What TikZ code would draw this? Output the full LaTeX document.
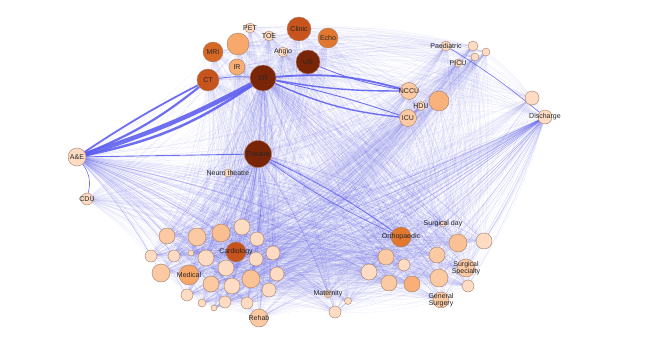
\documentclass[tikz,border=0pt]{standalone}
\usepackage{fontspec}
\setmainfont{Liberation Sans}
\pgfdeclarelayer{bg}
\pgfdeclarelayer{edges}
\pgfsetlayers{bg,edges,main}
\definecolor{eb}{RGB}{92,92,240}
\definecolor{ndline}{RGB}{165,125,105}
\definecolor{cA}{RGB}{253,220,195}
\definecolor{cB}{RGB}{251,201,162}
\definecolor{cC}{RGB}{248,168,106}
\definecolor{cD}{RGB}{226,120,48}
\definecolor{cM}{RGB}{214,104,38}
\definecolor{cE}{RGB}{198,84,28}
\definecolor{cF}{RGB}{122,36,8}
\tikzset{
 nd/.style={circle,draw=ndline,line width=0.4pt,inner sep=0pt,minimum size=#1},
 lab/.style={font=\fontsize{7}{7.5}\selectfont, text=black!85, inner sep=0pt, align=center},
 faint/.style={draw=eb, line width=0.35pt, opacity=0.085},
 midedge/.style={draw=eb, line width=0.4pt, opacity=0.26},
 heavy/.style={draw=eb, opacity=0.88, line width=#1},
}
\begin{document}
\begin{tikzpicture}[x=1pt,y=-1pt]
\useasboundingbox (0,0) rectangle (664,337);
\begin{pgfonlayer}{bg}
\fill[white] (0,0) rectangle (664,337);
\end{pgfonlayer}
% top cluster
\node[nd=10pt,fill=cA,label={[lab]center:PET}] (PET) at (250,28) {};
\node[nd=10pt,fill=cA,label={[lab]center:TOE}] (TOE) at (269,36) {};
\node[nd=24pt,fill=cE,label={[lab]center:Clinic}] (Clinic) at (299,29) {};
\node[nd=20pt,fill=cD,label={[lab]center:Echo}] (Echo) at (328,38) {};
\node[nd=22pt,fill=cC] (b1) at (238,44) {};
\node[nd=20pt,fill=cM,label={[lab]center:MRI}] (MRI) at (213,52) {};
\node[nd=10pt,fill=cA,label={[lab]center:Angio}] (Angio) at (283,52) {};
\node[nd=24pt,fill=cF,label={[lab]center:US}] (US) at (308,62) {};
\node[nd=16pt,fill=cC!85!cB,label={[lab]center:IR}] (IR) at (237,67) {};
\node[nd=22pt,fill=cE,label={[lab]center:CT}] (CT) at (208,80) {};
\node[nd=26pt,fill=cF,label={[lab]center:XR}] (XR) at (263,78) {};
% right top
\node[nd=10pt,fill=cA,label={[lab]center:Paediatric}] (Paed) at (446,46) {};
\node[nd=10pt,fill=cA] (p1) at (473,46) {};
\node[nd=8pt,fill=cA] (p2) at (486,52) {};
\node[nd=8pt,fill=cA] (p3) at (475,57) {};
\node[nd=8pt,fill=cA,label={[lab]center:PICU}] (PICU) at (458,63) {};
\node[nd=17pt,fill=cB,label={[lab]center:NCCU}] (NCCU) at (409,91) {};
\node[nd=9pt,fill=cA,label={[lab]center:HDU}] (HDU) at (421,106) {};
\node[nd=20pt,fill=cC!70!cB] (b2) at (439,101) {};
\node[nd=17pt,fill=cB,label={[lab]center:ICU}] (ICU) at (408,118) {};
\node[nd=14pt,fill=cA] (d1) at (532,98) {};
\node[nd=14pt,fill=cA,label={[lab]center:Discharge}] (Dis) at (545,117) {};
% left
\node[nd=18pt,fill=cA,label={[lab]center:A\&E}] (AE) at (77,157) {};
\node[nd=12pt,fill=cA,label={[lab]center:CDU}] (CDU) at (87,199) {};
\node[nd=27pt,fill=cF,label={[lab]center:Theatre}] (Theatre) at (258,154) {};
\node[nd=8pt,fill=cA,label={[lab]center:Neuro theatre}] (Neuro) at (228,173) {};
% left-lower cluster
\node[nd=16pt,fill=cB] (L1) at (167,236) {};
\node[nd=18pt,fill=cB] (L2) at (197,237) {};
\node[nd=18pt,fill=cB!70!cC] (L3) at (221,233) {};
\node[nd=16pt,fill=cA] (L4) at (242,227) {};
\node[nd=14pt,fill=cA] (L5) at (257,239) {};
\node[nd=12pt,fill=cA] (L6) at (151,256) {};
\node[nd=12pt,fill=cA] (L7) at (174,256) {};
\node[nd=6pt,fill=cA] (L8) at (191,253) {};
\node[nd=16pt,fill=cA] (L9) at (206,258) {};
\node[nd=20pt,fill=cE,label={[lab]center:Cardiology}] (Cardio) at (236,252) {};
\node[nd=14pt,fill=cA] (L10) at (256,259) {};
\node[nd=14pt,fill=cA] (L11) at (273,253) {};
\node[nd=18pt,fill=cB] (L12) at (161,273) {};
\node[nd=20pt,fill=cC,label={[lab]center:Medical}] (Medical) at (189,275) {};
\node[nd=16pt,fill=cA] (L13) at (226,268) {};
\node[nd=16pt,fill=cB] (L14) at (211,284) {};
\node[nd=16pt,fill=cA] (L15) at (232,286) {};
\node[nd=18pt,fill=cB!80!cC] (L16) at (251,279) {};
\node[nd=14pt,fill=cA] (L17) at (277,274) {};
\node[nd=12pt,fill=cA] (L18) at (187,295) {};
\node[nd=8pt,fill=cA] (L19) at (202,303) {};
\node[nd=6pt,fill=cA] (L20) at (214,308) {};
\node[nd=12pt,fill=cA] (L21) at (225,302) {};
\node[nd=12pt,fill=cA] (L22) at (247,303) {};
\node[nd=14pt,fill=cA] (L23) at (269,290) {};
\node[nd=18pt,fill=cB,label={[lab]center:Rehab}] (Rehab) at (259,318) {};
% right-lower cluster
\node[nd=6pt,fill=cA,label={[lab]center:Surgical day}] (Surgday) at (443,224) {};
\node[nd=20pt,fill=cD,label={[lab]center:Orthopaedic}] (Ortho) at (401,237) {};
\node[nd=18pt,fill=cB!75!cC] (R1) at (458,243) {};
\node[nd=16pt,fill=cA] (R2) at (484,241) {};
\node[nd=16pt,fill=cB] (R3) at (386,257) {};
\node[nd=16pt,fill=cB] (R4) at (437,255) {};
\node[nd=12pt,fill=cA] (R5) at (404,265) {};
\node[nd=16pt,fill=cA] (R6) at (369,272) {};
\node[nd=18pt,fill=cB,label={[lab]center:Surgical\\Specialty}] (SurgSpec) at (466,268) {};
\node[nd=16pt,fill=cB] (R7) at (389,283) {};
\node[nd=16pt,fill=cC!80!cB] (R8) at (412,284) {};
\node[nd=18pt,fill=cB] (R9) at (439,278) {};
\node[nd=12pt,fill=cA] (R10) at (468,286) {};
\node[nd=16pt,fill=cB,label={[lab]center:General\\Surgery}] (GenSurg) at (441,300) {};
\node[nd=8pt,fill=cA!80!ndline,label={[lab]center:Maternity}] (Mat) at (328,294) {};
\node[nd=7pt,fill=cA] (M1) at (348,301) {};
\node[nd=12pt,fill=cA] (M2) at (335,312) {};

\def\allnodes{PET,TOE,Clinic,Echo,b1,MRI,Angio,US,IR,CT,XR,Paed,p1,p2,p3,PICU,NCCU,HDU,b2,ICU,d1,Dis,AE,CDU,Theatre,Neuro,L1,L2,L3,L4,L5,L6,L7,L8,L9,Cardio,L10,L11,L12,Medical,L13,L14,L15,L16,L17,L18,L19,L20,L21,L22,L23,Rehab,Surgday,Ortho,R1,R2,R3,R4,R5,R6,SurgSpec,R7,R8,R9,R10,GenSurg,Mat,M1,M2}
\def\lownodes{L1,L2,L3,L4,L5,L6,L7,L9,Cardio,L10,L11,L12,Medical,L13,L14,L15,L16,L17,L18,L21,L22,L23,Rehab,Surgday,Ortho,R1,R2,R3,R4,R5,R6,SurgSpec,R7,R8,R9,R10,GenSurg,Mat,M2}
\begin{pgfonlayer}{edges}
\foreach \a [count=\i] in \allnodes {
  \foreach \b [count=\j] in \allnodes {
    \ifnum\j>\i \draw[faint] (\a) to[bend left=8] (\b); \fi
  }
}
\foreach \h in {AE,Theatre,Dis,XR} {
  \foreach \b in \lownodes { \draw[midedge] (\h) to[bend left=6] (\b); }
}
% heavy flows
\draw[heavy=1.8pt] (AE) to[bend left=3] (CT);
\draw[heavy=2.2pt] (AE) to[bend right=8] (CT);
\draw[heavy=4.5pt] (AE) to[bend right=5] (XR);
\draw[heavy=2.5pt] (AE) to[bend right=11] (XR);
\draw[heavy=1.8pt] (XR) to[bend left=10] (NCCU);
\draw[heavy=1.4pt] (XR) to[bend right=5] (NCCU);
\draw[heavy=1.4pt] (XR) to[bend right=9] (ICU);
\draw[heavy=0.9pt] (XR) to[bend left=3] (ICU);
\draw[heavy=0.8pt] (US) to[bend right=6] (NCCU);
\draw[heavy=0.9pt] (AE) -- (Theatre);
\draw[heavy=0.6pt] (AE) to[bend left=25] (CDU);
\draw[heavy=0.6pt] (Paed) to[bend left=4] (Dis);
\draw[heavy=0.7pt] (Theatre) to[bend left=5] (Ortho);
\draw[heavy=0.6pt] (Theatre) to[bend right=5] (Ortho);
\draw[heavy=0.8pt] (CT) to[bend left=6] (XR);
\end{pgfonlayer}
\end{tikzpicture}
\end{document}
